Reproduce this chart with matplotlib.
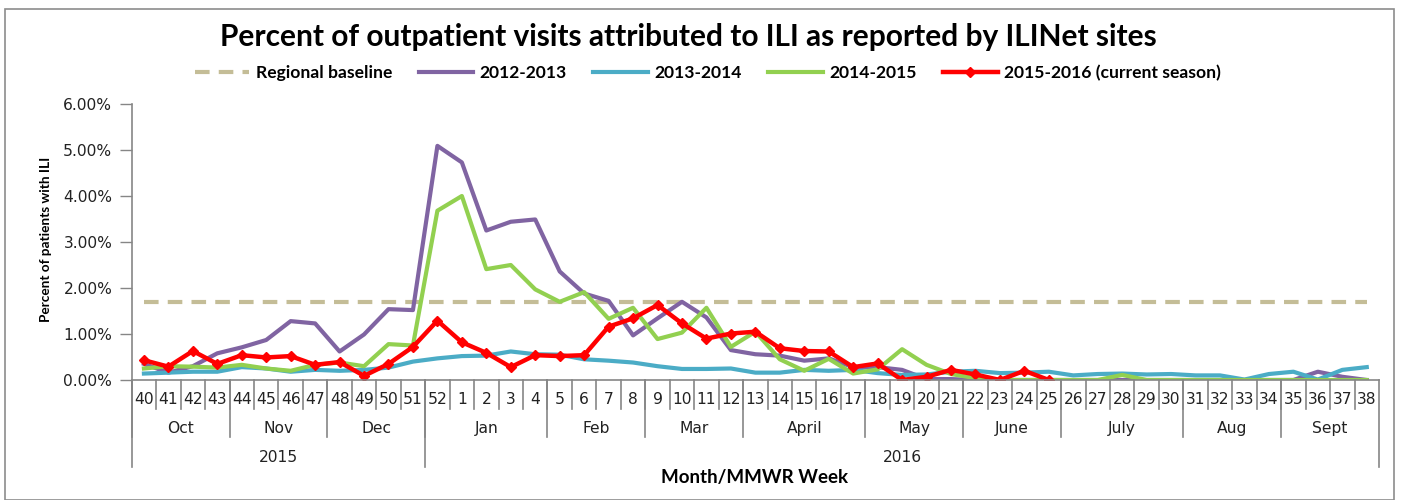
import matplotlib
matplotlib.use("Agg")
from matplotlib import pyplot as plt
from matplotlib.patches import Rectangle

plt.rcParams['font.family'] = ['Lato', 'DejaVu Sans']

# MMWR weeks, Oct 2015 -> Sept 2016
weeks = list(range(40, 53)) + list(range(1, 39))
months = ["Oct", "Nov", "Dec", "Jan", "Feb", "Mar", "April", "May", "June", "July", "Aug", "Sept"]
month_sizes = [4, 4, 4, 5, 4, 4, 5, 4, 4, 5, 4, 4]
years = ["2015", "2016"]
year_sizes = [12, 39]

baseline = 1.7

s_2012 = [0.35, 0.16, 0.30, 0.58, 0.71, 0.87, 1.28, 1.23, 0.62, 0.99, 1.54, 1.52, 5.09,
          4.73, 3.25, 3.44, 3.49, 2.36, 1.88, 1.72, 0.97, 1.34, 1.70, 1.36, 0.65,
          0.56, 0.53, 0.42, 0.47, 0.28, 0.28, 0.22, 0.02, 0.02, 0.0, 0.0, 0.0,
          0.0, 0.0, 0.0, 0.0, 0.0, 0.0, 0.0, 0.0, 0.0, 0.0, 0.0, 0.18, 0.07, 0.0]
s_2013 = [0.14, 0.16, 0.18, 0.18, 0.28, 0.25, 0.18, 0.22, 0.20, 0.22, 0.27, 0.40, 0.47,
          0.52, 0.53, 0.62, 0.56, 0.55, 0.45, 0.42, 0.38, 0.30, 0.24, 0.24, 0.25,
          0.16, 0.16, 0.22, 0.20, 0.22, 0.15, 0.11, 0.12, 0.18, 0.20, 0.15, 0.16,
          0.18, 0.10, 0.13, 0.14, 0.12, 0.13, 0.10, 0.10, 0.01, 0.13, 0.18, 0.01, 0.22, 0.28]
s_2014 = [0.25, 0.30, 0.29, 0.27, 0.33, 0.25, 0.20, 0.33, 0.38, 0.30, 0.78, 0.75, 3.68,
          4.00, 2.41, 2.50, 1.97, 1.70, 1.91, 1.33, 1.57, 0.89, 1.03, 1.57, 0.72,
          1.05, 0.45, 0.20, 0.46, 0.14, 0.23, 0.67, 0.33, 0.13, 0.04, 0.0, 0.0,
          0.0, 0.0, 0.0, 0.11, 0.0, 0.0, 0.0, 0.0, 0.0, 0.0, 0.0, 0.0, 0.0, 0.0]
s_2015 = [0.43, 0.29, 0.63, 0.35, 0.54, 0.49, 0.52, 0.33, 0.39, 0.09, 0.35, 0.72, 1.29,
          0.82, 0.59, 0.28, 0.54, 0.52, 0.54, 1.16, 1.34, 1.63, 1.23, 0.90, 1.01,
          1.05, 0.69, 0.63, 0.62, 0.28, 0.36, 0.0, 0.07, 0.22, 0.12, 0.0, 0.2, 0.0]

grey = '#868686'
axfont = ['DejaVu Sans']  # wider glyphs, closer to the stretched axis text

fig = plt.figure(figsize=(14.01, 5.0), dpi=100)
ax = fig.add_axes([131.7 / 1401, 1 - 380 / 500, (1379 - 131.7) / 1401, 276 / 500])

x = list(range(len(weeks)))
ax.plot(x, [baseline] * len(weeks), color='#C4BD97', lw=3, ls=(0, (3.5, 2.2)), label='Regional baseline')
ax.plot(x, s_2012, color='#8064A2', lw=3, label='2012-2013')
ax.plot(x, s_2013, color='#4BACC6', lw=3, label='2013-2014')
ax.plot(x, s_2014, color='#92D050', lw=3, label='2014-2015')
ax.plot(x[:len(s_2015)], s_2015, color='#FF0000', lw=3.2, marker='D', ms=5.5,
        label='2015-2016 (current season)')

ax.set_xlim(-0.5, len(weeks) - 0.5)
ax.set_ylim(0, 6)
ax.set_yticks([0, 1, 2, 3, 4, 5, 6])
ax.set_yticklabels([f"{v:.2f}%" for v in range(7)], fontsize=11.2, family=axfont, color='#222222')
ax.tick_params(axis='y', length=9, color=grey, width=1, pad=5)
ax.set_xticks([])
for side in ['top', 'right']:
    ax.spines[side].set_visible(False)
for side in ['left', 'bottom']:
    ax.spines[side].set_color(grey)
    ax.spines[side].set_linewidth(1.2)

# multi-level category axis
tr = ax.get_xaxis_transform()
ymin_week, ymin_month, ymin_year = -0.105, -0.2065, -0.315
for i, w in enumerate(weeks):
    ax.plot([i - 0.5, i - 0.5], [0, ymin_week], color=grey, lw=1.2, transform=tr, clip_on=False)
    ax.text(i, -0.072, str(w), transform=tr, ha='center', va='center', fontsize=11.2,
            family=axfont, color='#222222')

pos = 0
for m, n in zip(months, month_sizes):
    ax.plot([pos - 0.5, pos - 0.5], [0, ymin_month], color=grey, lw=1.2, transform=tr, clip_on=False)
    ax.text(pos + n / 2 - 0.5, -0.174, m, transform=tr, ha='center', va='center', fontsize=11.2,
            family=axfont, color='#222222')
    pos += n

pos = 0
for yr, n in zip(years, year_sizes):
    ax.plot([pos - 0.5, pos - 0.5], [0, ymin_year], color=grey, lw=1.2, transform=tr, clip_on=False)
    ax.text(pos + n / 2 - 0.5, -0.28, yr, transform=tr, ha='center', va='center', fontsize=11.2,
            family=axfont, color='#222222')
    pos += n
ax.plot([pos - 0.5, pos - 0.5], [0, ymin_year], color=grey, lw=1.2, transform=tr, clip_on=False)

fig.text(755 / 1401, 1 - 478 / 500, "Month/MMWR Week", ha='center', va='center',
         fontsize=13.5, fontweight='bold')
fig.text(46 / 1401, 1 - 239 / 500, "Percent of patients with ILI", ha='center', va='center',
         rotation=90, fontsize=9.8, fontweight='bold')
fig.text(688 / 1401, 1 - 37 / 500,
         "Percent of outpatient visits attributed to ILI as reported by ILINet sites",
         ha='center', va='center', fontsize=21.5, fontweight='bold')

leg = fig.legend(loc='center', bbox_to_anchor=(708 / 1401, 1 - 73 / 500), ncol=5, frameon=False,
                 prop={'weight': 'bold', 'size': 12.6}, handlelength=3.1, handletextpad=0.4,
                 columnspacing=1.5)

# chart border
fig.patches.append(Rectangle((5 / 1401, 0.0), 1389 / 1401, 1 - 9 / 500, transform=fig.transFigure,
                             fill=False, edgecolor='#8c8c8c', lw=1.2))

fig.savefig("out.png", dpi=100)
